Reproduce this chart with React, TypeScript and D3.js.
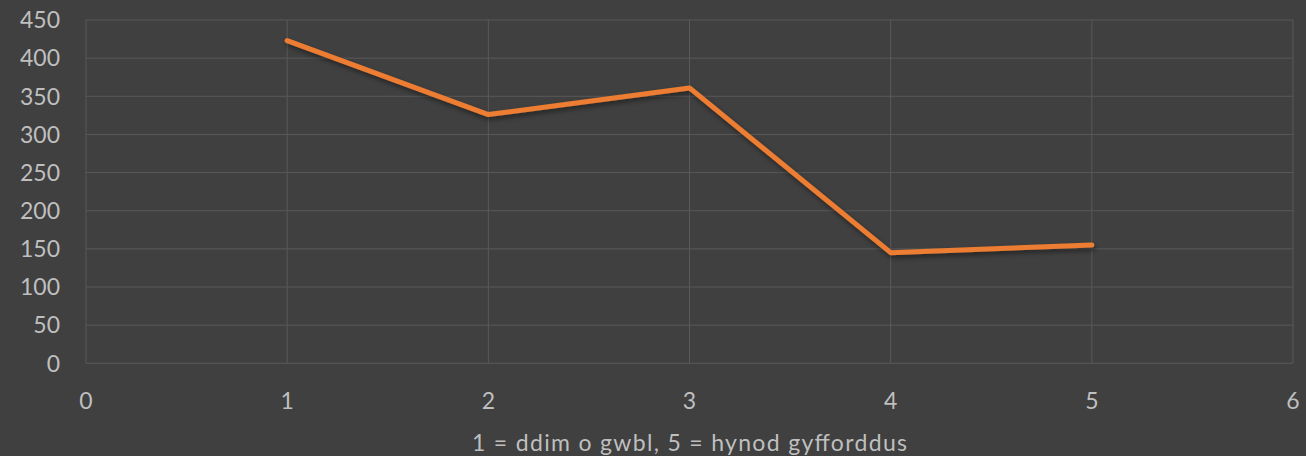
import { useEffect, useRef } from 'react';
import * as d3 from 'd3';

const xValues = [1, 2, 3, 4, 5];
const counts = [423, 326, 361, 145, 155];
const xTicks = [0, 1, 2, 3, 4, 5, 6];
const yTicks = [0, 50, 100, 150, 200, 250, 300, 350, 400, 450];
const xTitle = '1 = ddim o gwbl, 5 = hynod gyfforddus';

const App = () => {
  const svgRef = useRef(null);

  useEffect(() => {
    draw();
  }, []);

  const draw = () => {
    const width = 1306;
    const height = 456;
    const svg = d3.select(svgRef.current);
    svg.selectAll('*').remove();

    const x = d3.scaleLinear().domain([0, 6]).range([86, 1293]);
    const y = d3.scaleLinear().domain([0, 450]).range([363.3, 20]);
    const font = 'Lato, "Open Sans", sans-serif';

    svg.append('rect').attr('width', width).attr('height', height).attr('fill', '#404040');

    const defs = svg.append('defs');
    const f = defs.append('filter').attr('id', 'shadow').attr('x', '-10%').attr('y', '-10%').attr('width', '120%').attr('height', '130%');
    f.append('feDropShadow')
      .attr('dx', 1.5)
      .attr('dy', 3)
      .attr('stdDeviation', 2.5)
      .attr('flood-color', '#000')
      .attr('flood-opacity', 0.45);

    // grid
    svg.append('g')
      .selectAll('line')
      .data(yTicks)
      .join('line')
        .attr('x1', x(0))
        .attr('x2', x(6))
        .attr('y1', d => y(d))
        .attr('y2', d => y(d))
        .attr('stroke', '#595959')
        .attr('stroke-width', 1);

    svg.append('g')
      .selectAll('line')
      .data(xTicks)
      .join('line')
        .attr('x1', d => x(d))
        .attr('x2', d => x(d))
        .attr('y1', y(0))
        .attr('y2', y(450))
        .attr('stroke', '#595959')
        .attr('stroke-width', 1);

    // y labels
    svg.append('g')
      .selectAll('text')
      .data(yTicks)
      .join('text')
        .text(d => d)
        .attr('x', 60)
        .attr('y', d => y(d))
        .attr('dy', '0.36em')
        .attr('text-anchor', 'end')
        .attr('fill', '#bfbfbf')
        .style('font-family', font)
        .style('font-size', '23px');

    // x labels
    svg.append('g')
      .selectAll('text')
      .data(xTicks)
      .join('text')
        .text(d => d)
        .attr('x', d => x(d))
        .attr('y', 401)
        .attr('dy', '0.36em')
        .attr('text-anchor', 'middle')
        .attr('fill', '#bfbfbf')
        .style('font-family', font)
        .style('font-size', '23px');

    svg.append('text')
      .text(xTitle)
      .attr('x', 689.5)
      .attr('y', 443)
      .attr('dy', '0.36em')
      .attr('text-anchor', 'middle')
      .attr('textLength', 435)
      .attr('lengthAdjust', 'spacing')
      .attr('fill', '#bfbfbf')
      .style('font-family', font)
      .style('font-size', '23px');

    const line = d3.line()
      .x((d, i) => x(xValues[i]))
      .y(d => y(d));

    svg.append('path')
      .datum(counts)
      .attr('d', line)
      .attr('fill', 'none')
      .attr('stroke', '#ED7D31')
      .attr('stroke-width', 5)
      .attr('stroke-linecap', 'round')
      .attr('stroke-linejoin', 'round')
      .attr('filter', 'url(#shadow)');
  };

  return (
    <svg
      ref={svgRef}
      width={1306}
      height={456}
      style={{ position: 'absolute', left: 0, top: 0, display: 'block' }}
    />
  );
};

export default App;
